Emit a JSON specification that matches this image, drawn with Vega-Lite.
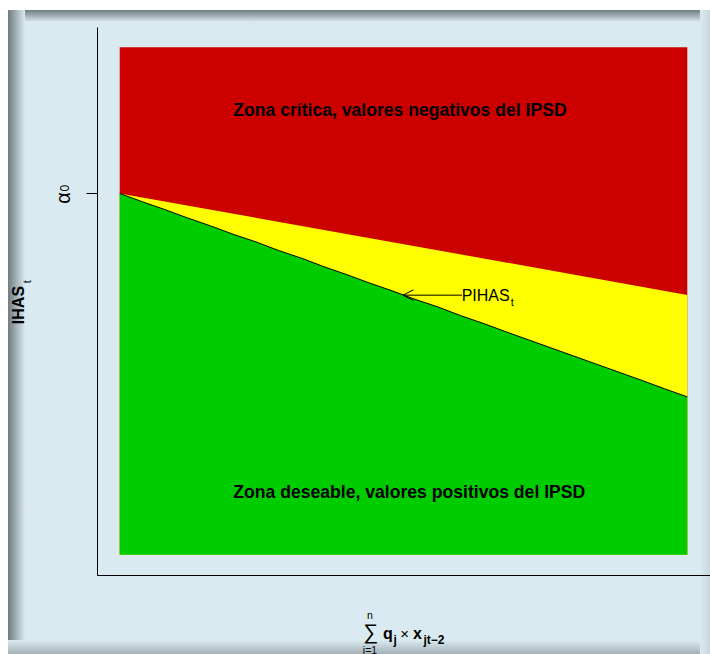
{
  "$schema": "https://vega.github.io/schema/vega-lite/v6.json",
  "width": 613,
  "height": 548,
  "autosize": "none",
  "padding": {"left": 97, "top": 27, "right": 0, "bottom": 79},
  "background": "#ffffff",
  "config": {"view": {"stroke": null}, "font": "Liberation Sans"},
  "datasets": {
    "frame": [{"x": -0.1968, "x2": 1.05, "y": 1.0733, "y2": -0.21}],
    "topShadow": [{"x": -0.1968, "x2": 1.05, "y": 1.0733, "y2": 1.0497}],
    "leftShadow": [{"x": -0.1968, "x2": -0.1668, "y": 1.0733, "y2": -0.21}],
    "bottomShadow": [{"x": -0.1968, "x2": 1.05, "y": -0.1683, "y2": -0.1959}],
    "rightShadow": [{"x": 1.0222, "x2": 1.05, "y": 1.0733, "y2": -0.21}],
    "zone": [{"x": 0, "x2": 1, "y": 0, "y2": 1}],
    "yellowTop": [{"x": 0, "y": 0.712}, {"x": 1, "y": 0.512}],
    "pihas": [
      {"x": 0, "y": 0.712}, {"x": 0.04, "y": 0.6955}, {"x": 0.08, "y": 0.680},
      {"x": 0.12, "y": 0.6635}, {"x": 0.16, "y": 0.648}, {"x": 0.2, "y": 0.6315},
      {"x": 0.24, "y": 0.6165}, {"x": 0.28, "y": 0.5995}, {"x": 0.32, "y": 0.5845},
      {"x": 0.36, "y": 0.5675}, {"x": 0.4, "y": 0.552}, {"x": 0.44, "y": 0.5355},
      {"x": 0.48, "y": 0.520}, {"x": 0.52, "y": 0.5035}, {"x": 0.56, "y": 0.4885},
      {"x": 0.6, "y": 0.4715}, {"x": 0.64, "y": 0.456}, {"x": 0.68, "y": 0.4395},
      {"x": 0.72, "y": 0.4235}, {"x": 0.76, "y": 0.4075}, {"x": 0.8, "y": 0.3915},
      {"x": 0.84, "y": 0.3755}, {"x": 0.88, "y": 0.3595}, {"x": 0.92, "y": 0.3435},
      {"x": 0.96, "y": 0.327}, {"x": 1, "y": 0.311}
    ],
    "arrow": [{"x": 0.603, "y": 0.5115}, {"x": 0.499, "y": 0.5115}],
    "arrowHead": [
      {"x": 0.5176, "y": 0.522, "o": 1},
      {"x": 0.499, "y": 0.5115, "o": 2},
      {"x": 0.5176, "y": 0.501, "o": 3}
    ]
  },
  "encoding": {
    "x": {"field": "x", "type": "quantitative", "title": null,
          "scale": {"domain": [-0.04, 1.04], "nice": false, "zero": false},
          "axis": {"title": null, "ticks": false, "labels": false, "grid": false, "domainColor": "#000000", "domainWidth": 1, "zindex": 1}},
    "y": {"field": "y", "type": "quantitative", "title": null,
          "scale": {"domain": [-0.04, 1.04], "nice": false, "zero": false},
          "axis": {"title": null, "values": [0.712], "labels": false, "grid": false, "tickSize": 11, "tickColor": "#000000", "tickWidth": 1, "domainColor": "#000000", "domainWidth": 1, "zindex": 1}}
  },
  "layer": [
    {
      "data": {"name": "frame"},
      "mark": {"type": "rect", "color": "#daeaf1"},
      "encoding": {"x2": {"field": "x2"}, "y2": {"field": "y2"}}
    },
    {
      "data": {"name": "topShadow"},
      "mark": {"type": "rect", "color": {"gradient": "linear", "x1": 0, "y1": 0, "x2": 0, "y2": 1, "stops": [{"offset": 0, "color": "#6f7c80"}, {"offset": 1, "color": "#daeaf1"}]}},
      "encoding": {"x2": {"field": "x2"}, "y2": {"field": "y2"}}
    },
    {
      "data": {"name": "leftShadow"},
      "mark": {"type": "rect", "color": {"gradient": "linear", "x1": 0, "y1": 0, "x2": 1, "y2": 0, "stops": [{"offset": 0, "color": "#6f7c80"}, {"offset": 1, "color": "#daeaf1"}]}},
      "encoding": {"x2": {"field": "x2"}, "y2": {"field": "y2"}}
    },
    {
      "data": {"name": "bottomShadow"},
      "mark": {"type": "rect", "color": {"gradient": "linear", "x1": 0, "y1": 0, "x2": 0, "y2": 1, "stops": [{"offset": 0, "color": "#daeaf1"}, {"offset": 1, "color": "#a3b1b6"}]}},
      "encoding": {"x2": {"field": "x2"}, "y2": {"field": "y2"}}
    },
    {
      "data": {"name": "rightShadow"},
      "mark": {"type": "rect", "color": {"gradient": "linear", "x1": 0, "y1": 0, "x2": 1, "y2": 0, "stops": [{"offset": 0, "color": "#daeaf1"}, {"offset": 1, "color": "#bfcdd2"}]}},
      "encoding": {"x2": {"field": "x2"}, "y2": {"field": "y2"}}
    },
    {
      "data": {"name": "zone"},
      "mark": {"type": "rect", "color": "#cd0000"},
      "encoding": {"x2": {"field": "x2"}, "y2": {"field": "y2"}}
    },
    {
      "data": {"name": "yellowTop"},
      "mark": {"type": "area", "color": "#ffff00", "opacity": 1},
      "encoding": {"y2": {"datum": 0}}
    },
    {
      "data": {"name": "pihas"},
      "mark": {"type": "area", "color": "#00cd00", "opacity": 1},
      "encoding": {"y2": {"datum": 0}}
    },
    {
      "data": {"name": "pihas"},
      "mark": {"type": "line", "color": "#000000", "strokeWidth": 1},
      "encoding": {}
    },
    {
      "data": {"name": "arrow"},
      "mark": {"type": "line", "color": "#000000", "strokeWidth": 1},
      "encoding": {}
    },
    {
      "data": {"name": "arrowHead"},
      "mark": {"type": "line", "color": "#000000", "strokeWidth": 1},
      "encoding": {"order": {"field": "o", "type": "quantitative"}}
    },
    {
      "data": {"values": [
        {"x": 0.2, "y": 0.874, "label": "Zona crítica, valores negativos del IPSD"},
        {"x": 0.2, "y": 0.121, "label": "Zona deseable, valores positivos del IPSD"}
      ]},
      "mark": {"type": "text", "font": "Liberation Sans", "fontWeight": "bold", "fontSize": 17.6, "align": "left", "baseline": "middle", "color": "#000000"},
      "encoding": {"text": {"field": "label"}}
    },
    {
      "data": {"values": [{"x": 0.6025, "y": 0.510, "label": "PIHAS"}]},
      "mark": {"type": "text", "font": "Liberation Sans", "fontSize": 16, "align": "left", "baseline": "middle", "color": "#000000"},
      "encoding": {"text": {"field": "label"}}
    },
    {
      "data": {"values": [{"x": 0.689, "y": 0.497, "label": "t"}]},
      "mark": {"type": "text", "font": "Liberation Sans", "fontSize": 11, "align": "left", "baseline": "middle", "color": "#000000"},
      "encoding": {"text": {"field": "label"}}
    },
    {
      "data": {"values": [{"x": -0.1774, "y": 0.492, "label": "IHAS"}]},
      "mark": {"type": "text", "font": "Liberation Sans", "fontWeight": "bold", "fontSize": 16, "angle": 270, "align": "center", "baseline": "middle", "color": "#000000"},
      "encoding": {"text": {"field": "label"}}
    },
    {
      "data": {"values": [{"x": -0.1616, "y": 0.538, "label": "t"}]},
      "mark": {"type": "text", "font": "Liberation Sans", "fontSize": 11, "angle": 270, "align": "center", "baseline": "middle", "color": "#000000"},
      "encoding": {"text": {"field": "label"}}
    },
    {
      "data": {"values": [{"x": -0.099, "y": 0.703, "label": "α"}]},
      "mark": {"type": "text", "font": "Liberation Sans", "fontSize": 20, "angle": 270, "align": "center", "baseline": "middle", "color": "#000000"},
      "encoding": {"text": {"field": "label"}}
    },
    {
      "data": {"values": [{"x": -0.0955, "y": 0.7225, "label": "0"}]},
      "mark": {"type": "text", "font": "Liberation Sans", "fontSize": 12, "angle": 270, "align": "center", "baseline": "middle", "color": "#000000"},
      "encoding": {"text": {"field": "label"}}
    },
    {
      "data": {"values": [{"x": 0.442, "y": -0.1545, "label": "∑"}]},
      "mark": {"type": "text", "font": "Liberation Sans", "fontSize": 21, "align": "center", "baseline": "middle", "color": "#000000"},
      "encoding": {"text": {"field": "label"}}
    },
    {
      "data": {"values": [
        {"x": 0.441, "y": -0.121, "label": "n"},
        {"x": 0.441, "y": -0.19, "label": "i=1"}
      ]},
      "mark": {"type": "text", "font": "Liberation Sans", "fontSize": 10.5, "align": "center", "baseline": "middle", "color": "#000000"},
      "encoding": {"text": {"field": "label"}}
    },
    {
      "data": {"values": [
        {"x": 0.4639, "y": -0.166, "label": "q"},
        {"x": 0.5167, "y": -0.166, "label": "x"}
      ]},
      "mark": {"type": "text", "font": "Liberation Sans", "fontWeight": "bold", "fontSize": 16, "align": "left", "baseline": "alphabetic", "color": "#000000"},
      "encoding": {"text": {"field": "label"}}
    },
    {
      "data": {"values": [
        {"x": 0.4824, "y": -0.176, "label": "j"},
        {"x": 0.5352, "y": -0.176, "label": "jt−2"}
      ]},
      "mark": {"type": "text", "font": "Liberation Sans", "fontWeight": "bold", "fontSize": 12, "align": "left", "baseline": "alphabetic", "color": "#000000"},
      "encoding": {"text": {"field": "label"}}
    },
    {
      "data": {"values": [{"x": 0.5018, "y": -0.1565, "label": "×"}]},
      "mark": {"type": "text", "font": "Liberation Sans", "fontSize": 15, "align": "center", "baseline": "middle", "color": "#000000"},
      "encoding": {"text": {"field": "label"}}
    }
  ]
}
